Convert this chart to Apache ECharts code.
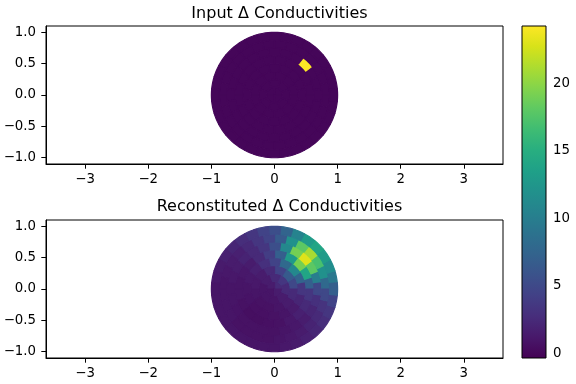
<!DOCTYPE html>
<html>
<head>
<meta charset="utf-8">
<script src="https://cdn.jsdelivr.net/npm/echarts@6/dist/echarts.min.js"></script>
<style>
html,body{margin:0;padding:0;background:#fff;}
#chart{width:576px;height:384px;}
</style>
</head>
<body>
<div id="chart"></div>
<script>
// ---------- data ----------
const titles = ['Input \u0394 Conductivities', 'Reconstituted \u0394 Conductivities'];
const xTicks = [-3, -2, -1, 0, 1, 2, 3];
const yTicks = [-1, -0.5, 0, 0.5, 1];
const cbTicks = [0, 5, 10, 15, 20];
const cbMin = -0.33;
const cbMax = 24.24;

// mesh structure: ring edges (radius) and number of cells per ring
const ringEdges = [0, 0.125, 0.25, 0.375, 0.5, 0.625, 0.75, 0.875, 1.0];
const ringCells = [4, 8, 12, 16, 20, 24, 28, 32];

// input conductivity change: background plus one anomaly cell
const inputBackground = 0;
const inputAnomalyRing = 5;
const inputAnomalyCell = 2;
const inputAnomalyValue = 24.24;

// reconstructed conductivity change, per ring, cell by cell (counter-clockwise)
const recon0 = [2.5, 1.5, 1, 1.5];
const recon1 = [3.5, 2.5, 1.5, 1, 1, 1, 1.5, 2.5];
const recon2 = [5, 6.5, 4.5, 2.5, 1.5, 1.2, 1, 0.8, 0.8, 1, 1.5, 2.5];
const recon3 = [7.5, 11, 8, 4.5, 3, 1.8, 1.3, 1, 0.9, 0.7, 0.7, 0.8, 1, 1.4, 2.2, 3.5];
const recon4 = [7, 14, 19, 13, 7, 4, 2.5, 1.5, 1.2, 1, 1, 0.8, 0.6, 0.6, 0.7, 0.8, 1.2, 1.8, 2.5, 3.5];
const recon5 = [10, 18, 23, 19, 11, 5.5, 3.5, 2.5, 2, 1.5, 1.2, 1, 1, 0.9, 0.8, 0.8, 0.8, 0.8, 1, 1.2, 1.6, 2.2, 3, 5];
const recon6 = [8, 12, 17, 21, 18, 12, 6.5, 4.5, 3.5, 2.5, 1.8, 1.5, 1.2, 1, 1, 1, 1, 0.8, 0.8, 0.8, 0.8, 1, 1.2, 1.5, 2, 2.5, 3.2, 5];
const recon7 = [9.5, 11.5, 13, 14, 13, 10.5, 7.5, 5.5, 4.5, 3.5, 2.8, 2.2, 1.8, 1.4, 1.2, 1, 1, 1, 1, 1, 1, 1, 1, 1, 1.2, 1.4, 1.8, 2.2, 2.8, 3.5, 4.5, 7];
const reconRings = [recon0, recon1, recon2, recon3, recon4, recon5, recon6, recon7];

const viridis = ['#440154','#48186a','#472d7b','#424086','#3b528b','#33638d','#2c728e','#26828e',
  '#21918c','#1fa088','#28ae80','#3fbc73','#5ec962','#84d44b','#addc30','#d8e219','#fde725'];

// ---------- build series data ----------
const inputData = [];
const reconData = [];
for (let k = 0; k < ringCells.length; k++) {
  for (let j = 0; j < ringCells[k]; j++) {
    const v = (k === inputAnomalyRing && j === inputAnomalyCell) ? inputAnomalyValue : inputBackground;
    inputData.push([k, j, v]);
    reconData.push([k, j, reconRings[k][j]]);
  }
}

function renderCell(params, api) {
  const k = api.value(0), j = api.value(1);
  const n = ringCells[k];
  const r0 = ringEdges[k], r1 = ringEdges[k + 1];
  const step = 2 * Math.PI / n;
  const off = (k % 2) ? step / 2 : 0;
  const a0 = j * step + off, a1 = a0 + step;
  const m = 4;
  const pts = [];
  for (let i = 0; i <= m; i++) {
    const a = a0 + (a1 - a0) * i / m;
    pts.push(api.coord([r1 * Math.cos(a), r1 * Math.sin(a)]));
  }
  if (r0 === 0) {
    pts.push(api.coord([0, 0]));
  } else {
    for (let i = m; i >= 0; i--) {
      const a = a0 + (a1 - a0) * i / m;
      pts.push(api.coord([r0 * Math.cos(a), r0 * Math.sin(a)]));
    }
  }
  const c = api.visual('color');
  return { type: 'polygon', shape: { points: pts }, style: { fill: c, stroke: c, lineWidth: 1.2, lineJoin: 'round' } };
}

function renderBar(params, api) {
  const p0 = api.coord([0, cbMin]);
  const p1 = api.coord([1, cbMax]);
  const stops = viridis.map((c, i) => ({ offset: i / (viridis.length - 1), color: c }));
  return {
    type: 'rect',
    shape: { x: p0[0], y: p1[1], width: p1[0] - p0[0], height: p0[1] - p1[1] },
    style: { fill: new echarts.graphic.LinearGradient(0, 1, 0, 0, stops), stroke: '#000', lineWidth: 1 }
  };
}

const FONT = 'DejaVu Sans';
const TICK_FS = 13.33;
const fmt1 = v => (v < 0 ? '\u2212' : '') + Math.abs(v).toFixed(1);
const fmt0 = v => (v < 0 ? '\u2212' : '') + Math.abs(v).toFixed(0);

function xAxisFor(g) {
  return {
    type: 'value', gridIndex: g, min: -3.62, max: 3.62,
    axisLine: { show: true, onZero: false, lineStyle: { color: '#000', width: 1 } },
    axisTick: { show: true, length: 4.7, customValues: xTicks, lineStyle: { color: '#000' } },
    axisLabel: { customValues: xTicks, formatter: fmt0, color: '#000', fontSize: TICK_FS, fontFamily: FONT, margin: 9.5 },
    splitLine: { show: false }
  };
}
function yAxisFor(g) {
  return {
    type: 'value', gridIndex: g, min: -1.1, max: 1.1,
    axisLine: { show: true, onZero: false, lineStyle: { color: '#000', width: 1 } },
    axisTick: { show: true, length: 4.7, customValues: yTicks, lineStyle: { color: '#000' } },
    axisLabel: { customValues: yTicks, formatter: fmt1, color: '#000', fontSize: TICK_FS, fontFamily: FONT, margin: 10 },
    splitLine: { show: false }
  };
}

const chart = echarts.init(document.getElementById('chart'), null, { renderer: 'canvas' });
chart.setOption({
  animation: false,
  backgroundColor: '#fff',
  title: [
    { text: titles[0], left: 274.5, top: 0.5, textAlign: 'center',
      textStyle: { fontSize: 16, fontWeight: 'normal', color: '#000', fontFamily: FONT } },
    { text: titles[1], left: 274.5, top: 193.5, textAlign: 'center',
      textStyle: { fontSize: 16, fontWeight: 'normal', color: '#000', fontFamily: FONT } }
  ],
  grid: [
    { left: 46, top: 26, width: 457, height: 138, show: true, borderColor: '#000', borderWidth: 1, backgroundColor: 'transparent' },
    { left: 46, top: 220, width: 457, height: 138, show: true, borderColor: '#000', borderWidth: 1, backgroundColor: 'transparent' },
    { left: 522, top: 26, width: 24, height: 332, show: false }
  ],
  xAxis: [
    xAxisFor(0), xAxisFor(1),
    { type: 'value', gridIndex: 2, min: 0, max: 1, show: false }
  ],
  yAxis: [
    yAxisFor(0), yAxisFor(1),
    { type: 'value', gridIndex: 2, min: cbMin, max: cbMax, position: 'right',
      axisLine: { show: false },
      axisTick: { show: true, length: 4.7, customValues: cbTicks, lineStyle: { color: '#000' } },
      axisLabel: { customValues: cbTicks, formatter: fmt0, color: '#000', fontSize: TICK_FS, fontFamily: FONT, margin: 7 },
      splitLine: { show: false } }
  ],
  visualMap: {
    type: 'continuous', show: false, min: cbMin, max: cbMax, dimension: 2,
    seriesIndex: [0, 1], inRange: { color: viridis }
  },
  series: [
    { type: 'custom', xAxisIndex: 0, yAxisIndex: 0, renderItem: renderCell, data: inputData, clip: false, silent: true },
    { type: 'custom', xAxisIndex: 1, yAxisIndex: 1, renderItem: renderCell, data: reconData, clip: false, silent: true },
    { type: 'custom', xAxisIndex: 2, yAxisIndex: 2, renderItem: renderBar, data: [[0, 0]], clip: false, silent: true }
  ]
});
</script>
</body>
</html>
